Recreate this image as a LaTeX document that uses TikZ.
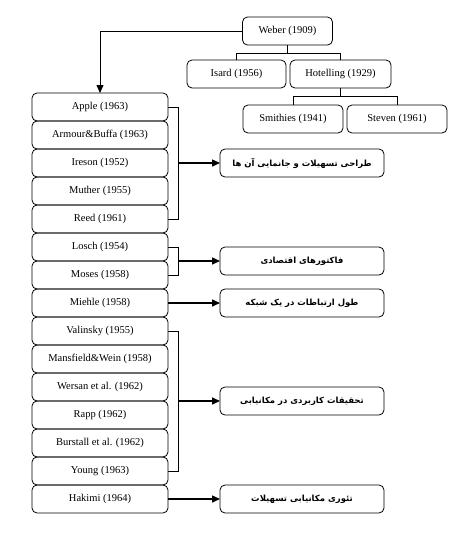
\documentclass[tikz,border=0pt]{standalone}
\usepackage{fontspec}
\setmainfont{Liberation Serif}
\newfontfamily\farsi[Script=Arabic]{DejaVu Sans}
\TeXXeTstate=1
\usetikzlibrary{arrows.meta,positioning,calc}

\begin{document}
\begin{tikzpicture}[x=1pt,y=-1pt,>={Triangle[length=8pt,width=7pt]},
  node distance=0pt,
  box/.style={draw,line width=0.8pt,rounded corners=5pt,minimum height=28pt,inner sep=0pt,
    outer sep=0pt,font=\fontsize{10.5}{12}\selectfont},
  item/.style={box,minimum width=136pt},
  goal/.style={draw,line width=0.8pt,rounded corners=5pt,minimum height=28pt,minimum width=164pt,
    inner sep=0pt,outer sep=0pt,font=\farsi\bfseries\fontsize{8.5}{10}\selectfont},
  link/.style={line width=0.8pt},
  fork/.style={line width=1.5pt,->}]

\useasboundingbox (0,0) rectangle (476,536);

% top tree
\node[box,minimum width=90pt]  (weber)     at (287.5,31)  {Weber (1909)};
\node[box,minimum width=99pt]  (isard)     at (236.5,74)  {Isard (1956)};
\node[box,minimum width=101pt] (hotelling) at (340.5,74)  {Hotelling (1929)};
\node[box,minimum width=100pt] (smithies)  at (293,119)   {Smithies (1941)};
\node[box,minimum width=100pt] (steven)    at (397,119)   {Steven (1961)};

% left column
\node[item] (apple)     at (100,107)        {Apple (1963)};
\node[item] (armour)    [below=of apple]    {Armour\&Buffa (1963)};
\node[item] (ireson)    [below=of armour]   {Ireson (1952)};
\node[item] (muther)    [below=of ireson]   {Muther (1955)};
\node[item] (reed)      [below=of muther]   {Reed (1961)};
\node[item] (losch)     [below=of reed]     {Losch (1954)};
\node[item] (moses)     [below=of losch]    {Moses (1958)};
\node[item] (miehle)    [below=of moses]    {Miehle (1958)};
\node[item] (valinsky)  [below=of miehle]   {Valinsky (1955)};
\node[item] (mansfield) [below=of valinsky] {Mansfield\&Wein (1958)};
\node[item] (wersan)    [below=of mansfield]{Wersan et al. (1962)};
\node[item] (rapp)      [below=of wersan]   {Rapp (1962)};
\node[item] (burstall)  [below=of rapp]     {Burstall et al. (1962)};
\node[item] (young)     [below=of burstall] {Young (1963)};
\node[item] (hakimi)    [below=of young]    {Hakimi (1964)};

% bracket points
\coordinate (b1) at ($(apple.east)!.5!(reed.east)+(10,0)$);
\coordinate (b2) at ($(losch.east)!.5!(moses.east)+(10,0)$);
\coordinate (b4) at ($(valinsky.east)!.5!(young.east)+(10,0)$);

% right column
\node[goal] (t1) [right=42pt of b1]         {\beginR طراحی تسهیلات و جانمایی آن ها\endR};
\node[goal] (t2) [right=42pt of b2]         {\beginR فاکتورهای اقتصادی\endR};
\node[goal] (t3) [right=52pt of miehle.east]{\beginR طول ارتباطات در یک شبکه\endR};
\node[goal] (t4) [right=42pt of b4]         {\beginR تحقیقات کاربردی در مکانیابی\endR};
\node[goal] (t5) [right=52pt of hakimi.east]{\beginR تئوری مکانیابی تسهیلات\endR};

\draw[link] (weber.south) -- ++(0,8) -| (isard.north);
\draw[link] (weber.south) -- ++(0,8) -| (hotelling.north);
\draw[link] (hotelling.south) -- ++(0,8) -| (smithies.north);
\draw[link] (hotelling.south) -- ++(0,8) -| (steven.north);
\draw[link,->] (weber.west) -| (apple.north);

\draw[link] (apple.east) -- ++(10,0) |- (reed.east);
\draw[link] (losch.east) -- ++(10,0) |- (moses.east);
\draw[link] (valinsky.east) -- ++(10,0) |- (young.east);

\draw[fork] (b1) -- (t1);
\draw[fork] (b2) -- (t2);
\draw[fork] (miehle) -- (t3);
\draw[fork] (b4) -- (t4);
\draw[fork] (hakimi) -- (t5);
\end{tikzpicture}
\end{document}
